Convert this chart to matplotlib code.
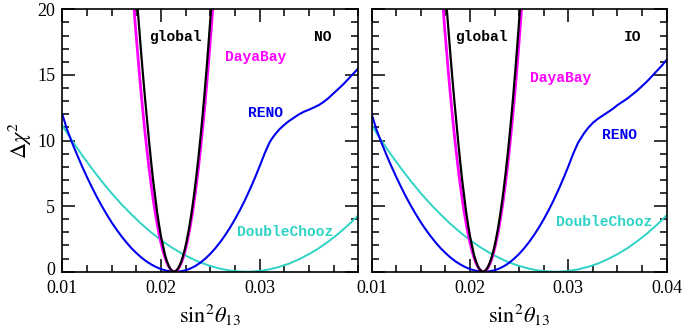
import matplotlib
matplotlib.use("Agg")
import matplotlib.pyplot as plt
import matplotlib.transforms as mtransforms
from matplotlib.ticker import MultipleLocator

plt.rcParams['mathtext.fontset'] = 'stix'
plt.rcParams['font.family'] = ['Liberation Serif', 'DejaVu Serif']

# ---------------- data ----------------
# global fit (black)
global_x = [0.0176, 0.0178, 0.0180, 0.0182, 0.0184, 0.0186, 0.0188, 0.0190, 0.0192,
            0.0194, 0.0196, 0.0198, 0.0200, 0.0202, 0.0204, 0.0206, 0.0208, 0.0210,
            0.0212, 0.0213, 0.0214, 0.0216, 0.0218, 0.0220, 0.0222, 0.0224, 0.0226,
            0.0228, 0.0230, 0.0232, 0.0234, 0.0236, 0.0238, 0.0240, 0.0242, 0.0244,
            0.0246, 0.0248, 0.0250, 0.0252]
global_y = [20.4, 18.5, 16.6, 14.8, 13.1, 11.5, 9.9, 8.4, 7.0,
            5.8, 4.6, 3.6, 2.7, 2.0, 1.3, 0.8, 0.42, 0.16,
            0.02, 0.0, 0.01, 0.11, 0.33, 0.66, 1.10, 1.65, 2.32,
            3.10, 4.00, 5.01, 6.13, 7.37, 8.72, 10.18, 11.76, 13.44,
            15.25, 17.16, 19.19, 21.3]

# Daya Bay (magenta)
dayabay_x = [0.0172, 0.0174, 0.0176, 0.0178, 0.0180, 0.0182, 0.0184, 0.0186, 0.0188,
             0.0190, 0.0192, 0.0194, 0.0196, 0.0198, 0.0200, 0.0202, 0.0204, 0.0206,
             0.0208, 0.0210, 0.0212, 0.02135, 0.0216, 0.0218, 0.0220, 0.0222, 0.0224,
             0.0226, 0.0228, 0.0230, 0.0232, 0.0234, 0.0236, 0.0238, 0.0240, 0.0242,
             0.0244, 0.0246, 0.0248, 0.0250, 0.0252, 0.0254]
dayabay_y = [20.8, 18.8, 17.0, 15.2, 13.55, 11.98, 10.51, 9.13, 7.85,
             6.67, 5.58, 4.59, 3.70, 2.90, 2.20, 1.60, 1.09, 0.68,
             0.37, 0.15, 0.03, 0.0, 0.08, 0.27, 0.56, 0.95, 1.46,
             2.06, 2.78, 3.60, 4.52, 5.55, 6.69, 7.93, 9.28, 10.73,
             12.29, 13.95, 15.73, 17.60, 19.58, 21.67]

# RENO (blue)
reno_x = [0.0100, 0.0105, 0.0110, 0.0115, 0.0120, 0.0125, 0.0130, 0.0135, 0.0140,
          0.0145, 0.0150, 0.0155, 0.0160, 0.0165, 0.0170, 0.0175, 0.0180, 0.0185,
          0.0190, 0.0195, 0.0200, 0.0205, 0.0210, 0.0215, 0.0220, 0.0225, 0.0230,
          0.0235, 0.0240, 0.0245, 0.0250, 0.0255, 0.0260, 0.0265, 0.0270, 0.0275,
          0.0280, 0.0285, 0.0290, 0.0295, 0.0300, 0.0305, 0.0310, 0.0313, 0.0316,
          0.0320, 0.0325, 0.0330, 0.0335, 0.0340, 0.0345, 0.0350, 0.0355, 0.0360,
          0.0365, 0.0370, 0.0375, 0.0380, 0.0385, 0.0390, 0.0395, 0.0400]
reno_no_y = [12.0, 10.8, 9.82, 8.91, 8.04, 7.22, 6.44, 5.70, 5.01,
             4.37, 3.76, 3.21, 2.70, 2.23, 1.80, 1.43, 1.09, 0.80,
             0.56, 0.36, 0.20, 0.09, 0.02, 0.0, 0.03, 0.11, 0.25,
             0.44, 0.69, 1.0, 1.36, 1.78, 2.25, 2.78, 3.36, 4.0,
             4.69, 5.44, 6.25, 7.11, 8.03, 9.0, 9.85, 10.2, 10.5,
             10.85, 11.2, 11.5, 11.75, 12.0, 12.2, 12.35, 12.52, 12.7,
             12.95, 13.25, 13.6, 13.95, 14.3, 14.7, 15.1, 15.5]
reno_io_y = [12.0, 10.8, 9.82, 8.91, 8.04, 7.22, 6.44, 5.70, 5.01,
             4.37, 3.76, 3.21, 2.70, 2.23, 1.80, 1.43, 1.09, 0.80,
             0.56, 0.36, 0.20, 0.09, 0.02, 0.0, 0.03, 0.11, 0.25,
             0.44, 0.69, 1.0, 1.36, 1.78, 2.25, 2.78, 3.36, 4.0,
             4.69, 5.44, 6.25, 7.11, 8.03, 9.0, 9.85, 10.2, 10.55,
             10.95, 11.35, 11.65, 11.9, 12.15, 12.4, 12.7, 12.95, 13.2,
             13.5, 13.8, 14.15, 14.5, 14.9, 15.3, 15.7, 16.15]

# Double Chooz (turquoise)
dc_x = [0.010, 0.011, 0.012, 0.013, 0.014, 0.015, 0.016, 0.017, 0.018, 0.019,
        0.020, 0.021, 0.022, 0.023, 0.024, 0.025, 0.026, 0.027, 0.028, 0.0287,
        0.029, 0.030, 0.031, 0.032, 0.033, 0.034, 0.035, 0.036, 0.037, 0.038,
        0.039, 0.040]
dc_y = [11.15, 9.99, 8.89, 7.86, 6.89, 5.98, 5.14, 4.37, 3.65, 3.00,
        2.41, 1.89, 1.43, 1.04, 0.70, 0.44, 0.23, 0.09, 0.02, 0.0,
        0.003, 0.057, 0.18, 0.37, 0.62, 0.95, 1.34, 1.79, 2.32, 2.91,
        3.57, 4.30]

panels = ["NO", "IO"]
xticks_left = [0.01, 0.02, 0.03]
xticks_right = [0.01, 0.02, 0.03, 0.04]
xtick_labels_left = ["0.01", "0.02", "0.03"]
xtick_labels_right = ["0.01", "0.02", "0.03", "0.04"]
yticks = [0, 5, 10, 15, 20]

# label positions (data coords)
label_pos = {
    "NO": {"global": (0.0215, 17.9), "tag": (0.0364, 17.9), "DayaBay": (0.0296, 16.4),
           "RENO": (0.0306, 12.1), "DoubleChooz": (0.0326, 3.05)},
    "IO": {"global": (0.0212, 17.9), "tag": (0.0365, 17.9), "DayaBay": (0.0292, 14.8),
           "RENO": (0.0352, 10.4), "DoubleChooz": (0.0336, 3.8)},
}

C_BLACK = "#000000"
C_MAG = "#ff00ff"
C_BLUE = "#0000ee"
C_CYAN = "#2ed3c6"

fig = plt.figure(figsize=(6.86, 3.34), dpi=100)
ax_l = fig.add_axes([0.0908, 0.1865, 0.4315, 0.7856])
ax_r = fig.add_axes([0.5418, 0.1865, 0.4300, 0.7856])

mono = dict(family=['Liberation Mono', 'DejaVu Sans Mono'], fontweight='bold', fontsize=10.5,
            ha='center', va='center')

for ax, tag, reno_y in [(ax_l, "NO", reno_no_y), (ax_r, "IO", reno_io_y)]:
    ax.plot(dc_x, dc_y, color=C_CYAN, lw=1.4)
    ax.plot(reno_x, reno_y, color=C_BLUE, lw=1.5)
    ax.plot(dayabay_x, dayabay_y, color=C_MAG, lw=2.0)
    ax.plot(global_x, global_y, color=C_BLACK, lw=1.6)
    ax.set_xlim(0.01, 0.04)
    ax.set_ylim(0, 20)
    ax.xaxis.set_minor_locator(MultipleLocator(0.0025))
    ax.yaxis.set_minor_locator(MultipleLocator(1))
    ax.set_yticks(yticks)
    ax.tick_params(which='both', direction='in', top=True, right=True, width=1.1)
    ax.tick_params(which='major', length=9.5, labelsize=13)
    ax.tick_params(axis='x', which='major', pad=6)
    ax.tick_params(axis='y', which='major', pad=5)
    ax.tick_params(which='minor', length=5)
    for s in ax.spines.values():
        s.set_linewidth(1.2)
    p = label_pos[tag]
    ax.text(*p["global"], "global", color=C_BLACK, **mono)
    ax.text(*p["tag"], tag, color=C_BLACK, **mono)
    ax.text(*p["DayaBay"], "DayaBay", color=C_MAG, **mono)
    ax.text(*p["RENO"], "RENO", color=C_BLUE, **mono)
    ax.text(*p["DoubleChooz"], "DoubleChooz", color=C_CYAN, **mono)
    ax.set_xlabel(r'$\mathrm{sin}^2\theta_{13}$', fontsize=16, labelpad=4)

ax_l.set_xticks(xticks_left)
ax_l.set_xticklabels(xtick_labels_left)
ax_r.set_xticks(xticks_right)
ax_r.set_xticklabels(xtick_labels_right)
ax_l.set_yticklabels([str(v) for v in yticks])
ax_r.set_yticklabels([])
ax_l.set_ylabel(r'$\Delta\chi^2$', fontsize=16, labelpad=2)

# nudge the "0" y tick label up slightly so it does not touch "0.01"
lbl0 = ax_l.get_yticklabels()[0]
lbl0.set_transform(lbl0.get_transform() +
                   mtransforms.ScaledTranslation(0, 3 / 100, fig.dpi_scale_trans))

fig.savefig("out.png", dpi=100)
